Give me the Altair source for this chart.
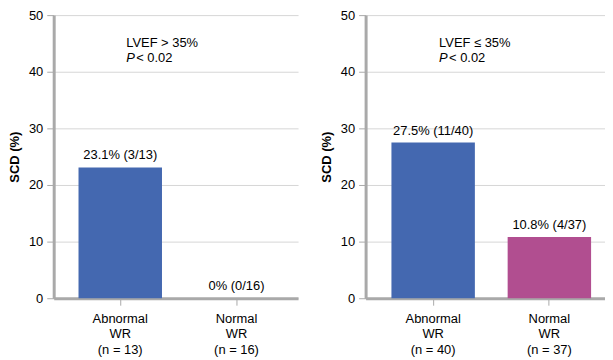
import altair as alt
import pandas as pd

groups = ["Abnormal", "Normal"]
left_note = "LVEF > 35%"
right_note = "LVEF \u2264 35%"
left_values = [23.1, 0.0]
left_counts = ["3/13", "0/16"]
left_n = [13, 16]
right_values = [27.5, 10.8]
right_counts = ["11/40", "4/37"]
right_n = [40, 37]
y_ticks = [0, 10, 20, 30, 40, 50]
p_letter = "P"
p_rest = "< 0.02"
y_title = "SCD (%)"
bar_colors = ["#4468b0", "#b14e90"]

FONT = "Liberation Sans"
AXIS_GREY = "#a9a9a9"
GRID_GREY = "#d6d6d6"


def make_df(values, counts, ns):
    return pd.DataFrame({
        "cat": [f"{g}|WR|(n = {n})" for g, n in zip(groups, ns)],
        "grp": groups,
        "value": values,
        "label": [f"{v:g}% ({c})" for v, c in zip(values, counts)],
    })


def panel(df, note, width, align, po):
    order = list(df["cat"])
    xscale = alt.Scale(paddingInner=0.282, paddingOuter=po, align=align)
    x = alt.X("cat:N", sort=order, scale=xscale,
              axis=alt.Axis(title=None, labelAngle=0,
                            labelExpr="split(datum.label, '|')",
                            labelLineHeight=16, labelPadding=7, tickSize=7,
                            domainWidth=3, domainColor=AXIS_GREY,
                            tickColor=AXIS_GREY, labelFontSize=13,
                            labelColor="black", grid=False, labelFont=FONT))
    y = alt.Y("value:Q", scale=alt.Scale(domain=[0, 50], nice=False),
              axis=alt.Axis(values=y_ticks, title=y_title, titleFontWeight="bold",
                            titleFontSize=13, titlePadding=7, labelPadding=4,
                            tickSize=7, grid=True, gridColor=GRID_GREY,
                            domainWidth=3, domainColor=AXIS_GREY,
                            tickColor=AXIS_GREY, labelFontSize=13,
                            labelColor="black", titleColor="black",
                            labelFont=FONT, titleFont=FONT))
    base = alt.Chart(df)
    bars = base.mark_bar().encode(
        x=x, y=y,
        color=alt.Color("grp:N", scale=alt.Scale(domain=groups, range=bar_colors), legend=None),
    )
    texts = base.mark_text(baseline="middle", dy=-12, fontSize=13, font=FONT, color="black").encode(
        x=alt.X("cat:N", sort=order), y="value:Q", text="label:N")
    ann = pd.DataFrame({"cat": [order[0]], "note": [note], "p": [p_letter], "rest": [p_rest]})
    abase = alt.Chart(ann)
    n1 = abase.mark_text(align="left", baseline="middle", dx=6, fontSize=13, font=FONT, color="black").encode(
        x=alt.X("cat:N", sort=order), y=alt.value(28), text="note:N")
    n2 = abase.mark_text(align="left", baseline="middle", dx=6, fontSize=13, font=FONT,
                         fontStyle="italic", color="black").encode(
        x=alt.X("cat:N", sort=order), y=alt.value(43), text="p:N")
    n3 = abase.mark_text(align="left", baseline="middle", dx=16, fontSize=13, font=FONT, color="black").encode(
        x=alt.X("cat:N", sort=order), y=alt.value(43), text="rest:N")
    return alt.layer(bars, texts, n1, n2, n3).properties(width=width, height=285)


left = panel(make_df(left_values, left_counts, left_n), left_note, 246, 0.556, 0.192)
right = panel(make_df(right_values, right_counts, right_n), right_note, 241, 0.65, 0.171)

chart = alt.hconcat(left, right, spacing=22).properties(
    padding=0, background="white"
).configure_view(stroke=None).resolve_scale(color="shared")

chart.save("out.html", embed_options={"renderer": "svg", "actions": False})
